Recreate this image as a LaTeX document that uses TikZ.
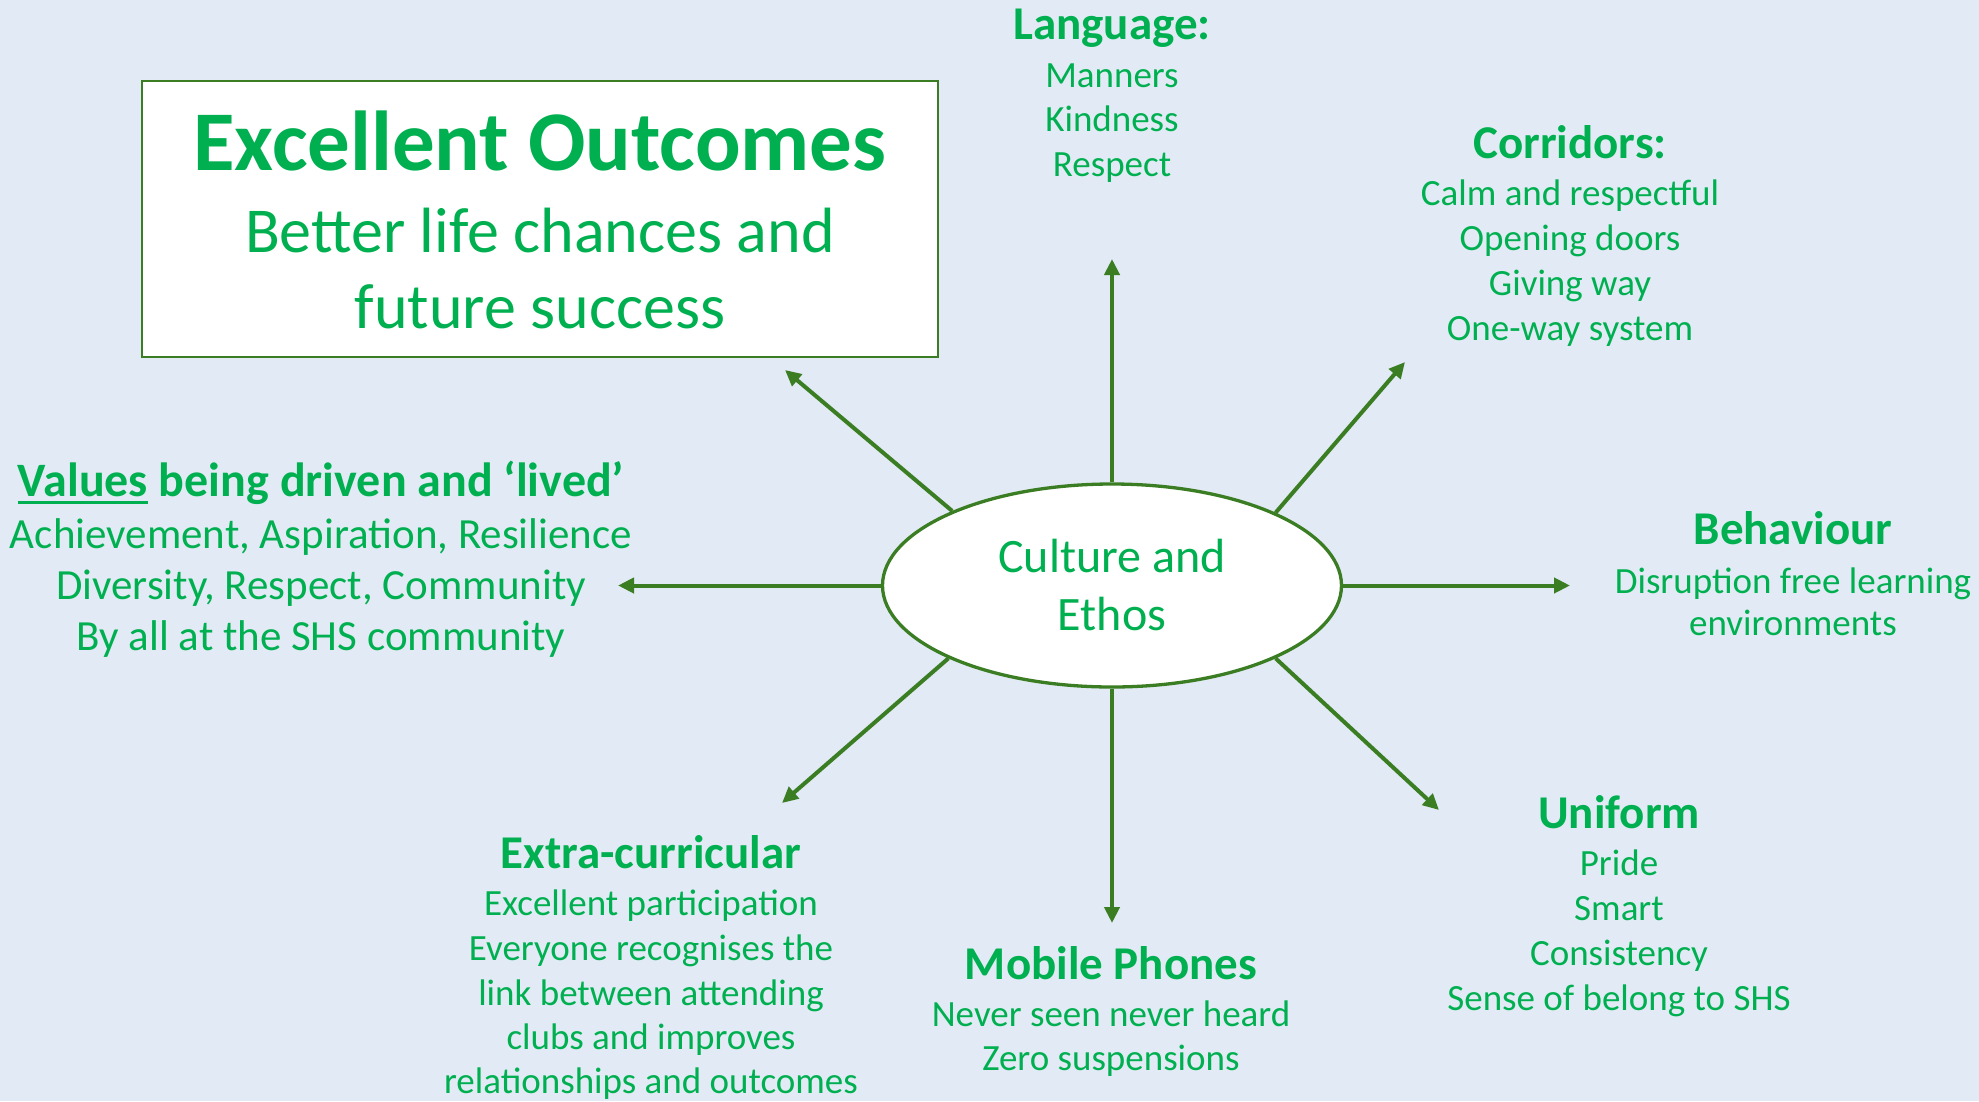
\documentclass[tikz,border=0pt]{standalone}
\usepackage{fontspec}
\setmainfont{Carlito}
\usetikzlibrary{arrows.meta,shapes.geometric}
\definecolor{bg}{HTML}{E2EAF5}
\definecolor{txt}{HTML}{00B050}
\definecolor{ln}{HTML}{3A7D22}
\newsavebox\ulbox
\newcommand{\ulrule}[1]{\sbox\ulbox{#1}\rlap{\rule[-8pt]{\wd\ulbox}{3pt}}\usebox\ulbox}
\begin{document}
\begin{tikzpicture}[x=1pt,y=-1pt,
  hd/.style={text=txt,font=\fontsize{47}{56}\selectfont\bfseries,anchor=base,inner sep=0pt},
  bd/.style={text=txt,font=\fontsize{37}{44}\selectfont,anchor=base,inner sep=0pt},
  vbd/.style={text=txt,font=\fontsize{43}{51}\selectfont,anchor=base,inner sep=0pt},
  arr/.style={draw=ln,line width=4pt,-{Triangle[length=16pt,width=15pt]}},
]
\fill[bg] (0,0) rectangle (1979,1101);
\useasboundingbox (0,0) rectangle (1979,1101);

% outcome box
\node[draw=ln,line width=1.5pt,fill=white,minimum width=796pt,minimum height=276pt,inner sep=0pt] (box) at (540,219) {};
\node[text=txt,font=\fontsize{85}{100}\selectfont\bfseries,anchor=base,inner sep=0pt] (t1) at (540,170) {Excellent Outcomes};
\node[text=txt,font=\fontsize{64}{74}\selectfont,anchor=base,inner sep=0pt] (t2) at (540,252) {Better life chances and};
\node[text=txt,font=\fontsize{64}{74}\selectfont,anchor=base,inner sep=0pt] (t3) at (540,328) {future success};

% centre
\node[ellipse,draw=ln,line width=3.3pt,fill=white,minimum width=459pt,minimum height=203pt,inner sep=0pt,
      text=txt,font=\fontsize{48}{58}\selectfont,align=center] (e) at (1112,585.5) {Culture and\\Ethos};

% arrow tips
\coordinate (tu) at (1112,259);
\coordinate (tur) at (1405,362);
\coordinate (tr) at (1570,585.5);
\coordinate (tdr) at (1439,810);
\coordinate (td) at (1112,923);
\coordinate (tdl) at (782,803);
\coordinate (tl) at (618,585.5);
\coordinate (tul) at (785,370);

\draw[arr] (e.north) -- (tu);
\draw[arr] (e.24.1) -- (tur);
\draw[arr] (e.east) -- (tr);
\draw[arr] (e.-24.1) -- (tdr);
\draw[arr] (e.south) -- (td);
\draw[arr] (e.204.1) -- (tdl);
\draw[arr] (e.west) -- (tl);
\draw[arr] (e.155.9) -- (tul);

% Language
\node[hd] (lang0) at (1112,39) {Language:};
\node[bd] (lang1) at (1112,87) {Manners};
\node[bd] (lang2) at (1112,131) {Kindness};
\node[bd] (lang3) at (1112,176) {Respect};

% Corridors
\node[hd] (cor0) at (1570,158) {Corridors:};
\node[bd] (cor1) at (1570,205) {Calm and respectful};
\node[bd] (cor2) at (1570,250) {Opening doors};
\node[bd] (cor3) at (1570,295) {Giving way};
\node[bd] (cor4) at (1570,340) {One-way system};

% Behaviour
\node[hd] (beh0) at (1793,544) {Behaviour};
\node[bd] (beh1) at (1793,593) {Disruption free learning};
\node[bd] (beh2) at (1793,635) {environments};

% Uniform
\node[hd] (uni0) at (1619,828) {Uniform};
\node[bd] (uni1) at (1619,875) {Pride};
\node[bd] (uni2) at (1619,920) {Smart};
\node[bd] (uni3) at (1619,965) {Consistency};
\node[bd] (uni4) at (1619,1010) {Sense of belong to SHS};

% Mobile phones
\node[hd] (mob0) at (1111,979) {Mobile Phones};
\node[bd] (mob1) at (1111,1026) {Never seen never heard};
\node[bd] (mob2) at (1111,1070) {Zero suspensions};

% Extra-curricular
\node[hd] (ext0) at (651,868) {Extra-curricular};
\node[bd] (ext1) at (651,915) {Excellent participation};
\node[bd] (ext2) at (651,960) {Everyone recognises the};
\node[bd] (ext3) at (651,1005) {link between attending};
\node[bd] (ext4) at (651,1049) {clubs and improves};
\node[bd] (ext5) at (651,1093) {relationships and outcomes};

% Values
\node[hd,font=\fontsize{48}{57}\selectfont\bfseries] (val0) at (321,496) {\ulrule{Values} being driven and ‘lived’};
\node[vbd] (val1) at (321,548) {Achievement, Aspiration, Resilience};
\node[vbd] (val2) at (321,599) {Diversity, Respect, Community};
\node[vbd] (val3) at (321,650) {By all at the SHS community};
\end{tikzpicture}
\end{document}
